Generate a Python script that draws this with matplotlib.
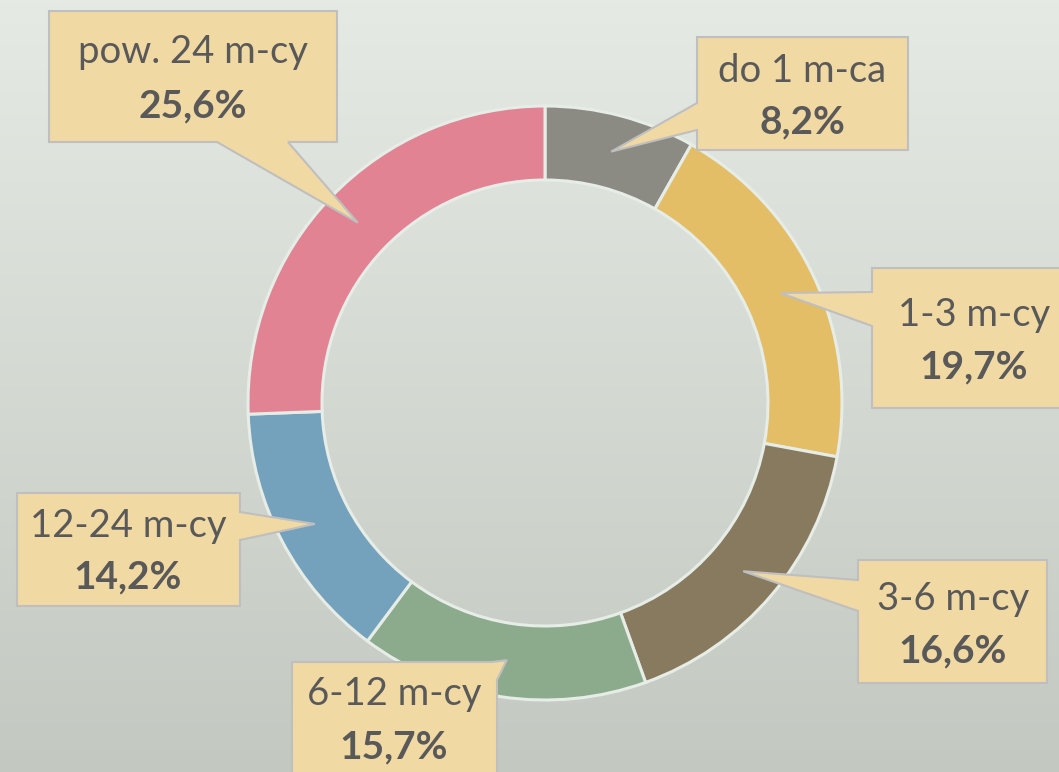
import numpy as np
import matplotlib.pyplot as plt
from matplotlib.patches import Polygon

# data
labels = ['do 1 m-ca', '1-3 m-cy', '3-6 m-cy', '6-12 m-cy', '12-24 m-cy', 'pow. 24 m-cy']
shares = [8.2, 19.7, 16.6, 15.7, 14.2, 25.6]
value_text = ['8,2%', '19,7%', '16,6%', '15,7%', '14,2%', '25,6%']
colors = ['#8b8b84', '#e4bd67', '#887a5f', '#8cab8c', '#74a2bc', '#e18393']

W, H = 1059, 772
cx, cy = 545, 403          # pixel coords, y down
r_out, r_in = 297, 223

# callout layout (pixel coords, y down): box, pointer side, pointer base, text x, baselines
boxes = [(697, 37, 908, 150), (872, 268, 1078, 408), (858, 560, 1047, 683),
         (292, 662, 497, 800), (17, 493, 240, 606), (49, 11, 337, 142)]
sides = ['left', 'left', 'left', 'topright', 'right', 'bottom']
bases = [(103, 130), (292, 326), (580, 611), (492, 680), (512, 540), (217, 288)]
text_x = [802, 974, 953, 394, 128, 193]
text_base = [(82, 133), (326, 378), (610, 662), (705, 758), (537, 588), (63, 117)]

plt.rcParams['font.family'] = ['Lato', 'DejaVu Sans']

fig = plt.figure(figsize=(W / 100, H / 100), dpi=100)

# background gradient
bg = fig.add_axes([0, 0, 1, 1])
top = np.array([229, 234, 228]) / 255
bot = np.array([195, 200, 193]) / 255
t = np.linspace(0, 1, 256)[:, None, None]
grad = top * (1 - t) + bot * t
grad = np.repeat(grad, 2, axis=1)
bg.imshow(grad, aspect='auto', extent=[0, 1, 0, 1])
bg.axis('off')

ax = fig.add_axes([0, 0, 1, 1])
ax.set_facecolor('none')

def fy(py):
    return H - py

ax.pie(shares, colors=colors, radius=r_out, center=(cx, fy(cy)),
       startangle=90, counterclock=False,
       wedgeprops=dict(width=r_out - r_in, edgecolor='#e6ece6', linewidth=2.2))
ax.set_xlim(0, W)
ax.set_ylim(0, H)
ax.set_aspect('equal')
ax.axis('off')

# pointer tips at mid-angle of each wedge, middle of the ring
cum = np.cumsum([0] + shares)
mids = 90 - (cum[:-1] + np.array(shares) / 2) / 100 * 360
r_mid = (r_out + r_in) / 2

for i in range(len(labels)):
    x0, y0, x1, y1 = boxes[i]
    a, b = bases[i]
    ang = np.radians(mids[i])
    tip = (cx + r_mid * np.cos(ang), cy - r_mid * np.sin(ang))
    side = sides[i]
    if side == 'left':
        pts = [(x0, y0), (x1, y0), (x1, y1), (x0, y1), (x0, b), tip, (x0, a)]
    elif side == 'right':
        pts = [(x0, y0), (x1, y0), (x1, a), tip, (x1, b), (x1, y1), (x0, y1)]
    elif side == 'bottom':
        pts = [(x0, y0), (x1, y0), (x1, y1), (b, y1), tip, (a, y1), (x0, y1)]
    else:  # topright
        pts = [(x0, y0), (a, y0), tip, (x1, b), (x1, y1), (x0, y1)]
    pts = [(px, fy(py)) for px, py in pts]
    ax.add_patch(Polygon(pts, closed=True, facecolor='#f1d9a3',
                         edgecolor='#bfbfbf', linewidth=1.5, zorder=3))
    ax.text(text_x[i], fy(text_base[i][0]), labels[i], ha='center', va='baseline',
            fontsize=27.5, color='#595959', zorder=4)
    ax.text(text_x[i], fy(text_base[i][1]), value_text[i], ha='center', va='baseline',
            fontsize=28, fontweight='bold', color='#595959', zorder=4)

fig.savefig('out.png', dpi=100)
